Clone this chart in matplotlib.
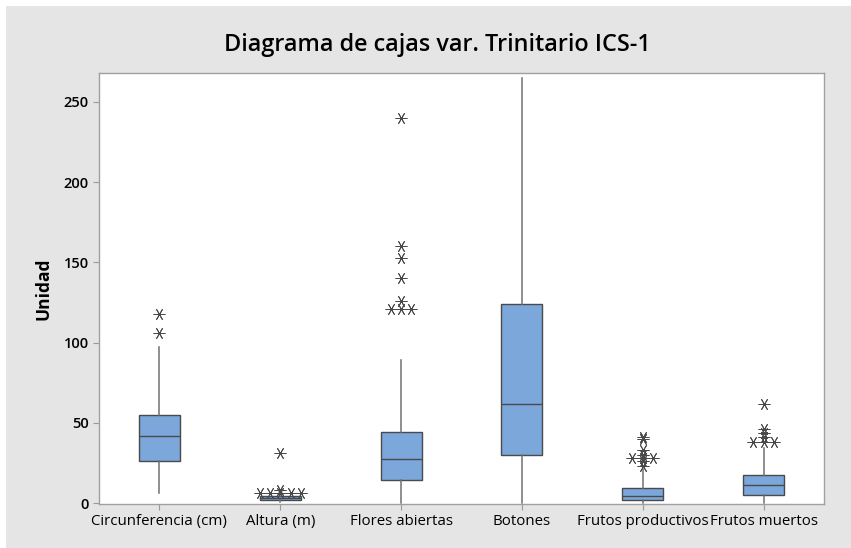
import numpy as np
import matplotlib.pyplot as plt
from matplotlib.patches import Rectangle

# Datos leidos del diagrama de cajas (valores aproximados)
categorias = ['Circunferencia (cm)', 'Altura (m)', 'Flores abiertas',
              'Botones', 'Frutos productivos', 'Frutos muertos']
minimos = [6, 0.5, 0, 0, 0, 0]
cuartil1 = [26, 2, 14.5, 30, 2, 5]
medianas = [42, 3, 27.5, 62, 4.5, 11.5]
cuartil3 = [55, 4.5, 44, 124, 9.5, 17.5]
maximos = [97, 5.5, 89, 265, 21, 34]
atipicos = [
    [106, 118],
    [6, 6, 6, 6, 6, 8, 31],
    [121, 121, 121, 126, 140, 153, 160, 240],
    [],
    [23, 26, 28, 28, 28, 30, 33, 40, 41],
    [38, 38, 38, 41, 43.5, 46, 62],
]
ticks_y = [0, 50, 100, 150, 200, 250]

plt.rcParams['font.family'] = ['Open Sans', 'DejaVu Sans']

fig = plt.figure(figsize=(8.51, 5.48), dpi=100)
fig.patch.set_facecolor('white')
# Fondo gris de la grafica (deja un borde blanco arriba y a la izquierda)
fig.patches.append(Rectangle((6 / 851, 0), 1, 1 - 6 / 548, transform=fig.transFigure,
                             facecolor='#e5e5e5', edgecolor='none', zorder=-10))

ax = fig.add_axes([99 / 851, 1 - 504 / 548, 725 / 851, 431 / 548])
ax.set_facecolor('white')

# Armamos las estadisticas para bxp (sin atipicos, se dibujan aparte)
posiciones = np.arange(1, len(categorias) + 1)
stats = []
for i in range(len(categorias)):
    stats.append({'whislo': minimos[i], 'q1': cuartil1[i], 'med': medianas[i],
                  'q3': cuartil3[i], 'whishi': maximos[i], 'fliers': []})

ax.bxp(stats, positions=posiciones, widths=0.34, showcaps=False, showfliers=False,
       patch_artist=True,
       boxprops=dict(facecolor='#7ba7db', edgecolor='#4a4a4a', linewidth=1.0),
       medianprops=dict(color='#4a4a4a', linewidth=1.0),
       whiskerprops=dict(color='#707070', linewidth=1.1))

# Atipicos: los valores repetidos se ponen uno al lado del otro
estrella = (6, 2, 90)
for pos, valores in zip(posiciones, atipicos):
    unicos, cuentas = np.unique(valores, return_counts=True)
    for v, n in zip(unicos, cuentas):
        desplaz = (np.arange(n) - (n - 1) / 2) * 0.085
        ax.plot(pos + desplaz, [v] * n, linestyle='none', marker=estrella,
                markersize=8.5, markeredgewidth=0.65, color='#4a4a4a', zorder=5)

ax.set_xlim(0.5, len(categorias) + 0.5)
ax.set_ylim(-0.6, 268)
ax.set_xticks(posiciones)
ax.set_xticklabels(categorias, fontsize=10.8, color='black')
ax.set_yticks(ticks_y)
ax.set_yticklabels([str(t) for t in ticks_y], fontsize=10.5, fontweight='semibold')
ax.tick_params(axis='both', length=4, color='#9a9a9a', width=0.8)
for lado in ax.spines.values():
    lado.set_color('#a0a0a0')
    lado.set_linewidth(1.0)

ax.set_ylabel('Unidad', fontsize=12.5, fontweight='bold', labelpad=8)
fig.text(437.5 / 851, 1 - 45 / 548, 'Diagrama de cajas var. Trinitario ICS-1',
         ha='center', va='center', fontsize=16.8, fontweight='semibold')

plt.savefig('out.png', dpi=100, facecolor=fig.get_facecolor())
